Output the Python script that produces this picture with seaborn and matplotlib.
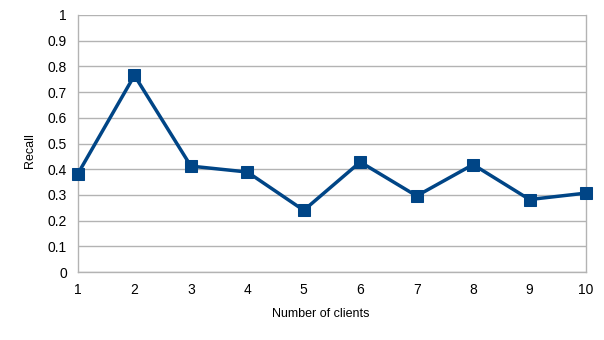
import matplotlib
matplotlib.use("Agg")
import matplotlib.pyplot as plt
import seaborn as sns
import pandas as pd

clients = [1, 2, 3, 4, 5, 6, 7, 8, 9, 10]
recall = [0.383, 0.765, 0.412, 0.389, 0.240, 0.428, 0.296, 0.418, 0.282, 0.307]
y_ticks = [0, 0.1, 0.2, 0.3, 0.4, 0.5, 0.6, 0.7, 0.8, 0.9, 1]
y_tick_labels = ["0", "0.1", "0.2", "0.3", "0.4", "0.5", "0.6", "0.7", "0.8", "0.9", "1"]

sns.set_theme(style="white")
plt.rcParams["font.family"] = ["Liberation Sans", "DejaVu Sans"]

df = pd.DataFrame({"clients": clients, "recall": recall})

fig = plt.figure(figsize=(6.04, 3.40), dpi=100)
ax = fig.add_axes([78/604, 1-272/340, (586-78)/604, (272-15)/340])

color = "#004586"
sns.lineplot(data=df, x="clients", y="recall", ax=ax, color=color, linewidth=2.5,
             marker="s", markersize=8, markeredgecolor=color, markerfacecolor=color,
             clip_on=False, zorder=5)

ax.set_xlim(1, 10)
ax.set_ylim(0, 1)
ax.set_xticks(clients)
ax.set_xticklabels([str(c) for c in clients], fontsize=10)
ax.set_yticks(y_ticks)
ax.set_yticklabels(y_tick_labels, fontsize=10)
ax.yaxis.grid(True, color="#b3b3b3", linewidth=1)
ax.xaxis.grid(False)
ax.set_axisbelow(True)
for s in ["left", "bottom", "right"]:
    ax.spines[s].set_visible(True)
    ax.spines[s].set_color("#b3b3b3")
    ax.spines[s].set_linewidth(1)
ax.spines["top"].set_visible(False)
ax.tick_params(axis="both", which="both", direction="out", length=5, width=1,
               color="#b3b3b3", labelcolor="black", pad=3)
ax.set_xlabel("Number of clients", fontsize=9, color="black")
ax.set_ylabel("Recall", fontsize=9, color="black")
ax.xaxis.set_label_coords((321 - 78) / 508, -(314 - 272) / 257, transform=ax.transAxes)
ax.xaxis.label.set_va("center")
ax.yaxis.set_label_coords(-(78 - 30) / 508, (272 - 151) / 257, transform=ax.transAxes)
ax.yaxis.label.set_va("center")

fig.savefig("out.png", dpi=100)
